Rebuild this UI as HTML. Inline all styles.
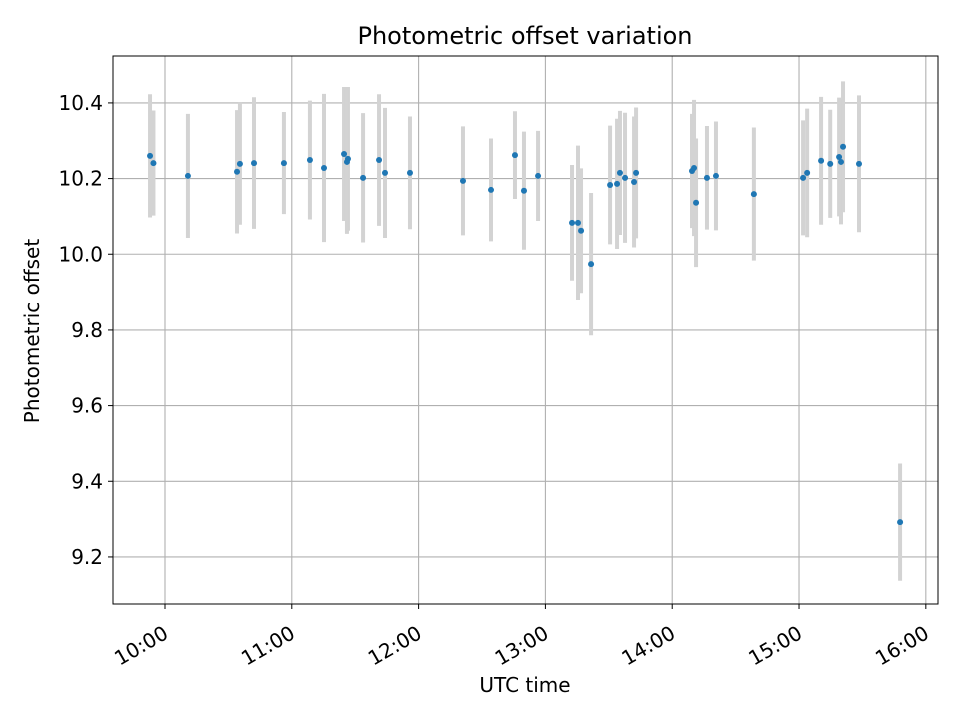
<!DOCTYPE html>
<html><head><meta charset="utf-8"><style>
body{margin:0;background:#fff}
svg{display:block;font-family:"DejaVu Sans","Liberation Sans",sans-serif}
</style></head><body>
<svg id="chart" width="960" height="720" viewBox="0 0 960 720">
<rect width="960" height="720" fill="#fff"/>
<text x="525" y="44" text-anchor="middle" font-size="24">Photometric offset variation</text>
<text x="525" y="692" text-anchor="middle" font-size="20">UTC time</text>
<text transform="translate(39,331) rotate(-90)" text-anchor="middle" font-size="20">Photometric offset</text>
<g id="grid"></g><g id="bars"></g><g id="dots"></g><g id="axes"></g>
</svg>
<script>
const times=[9.882,9.909,10.181,10.568,10.591,10.702,10.938,11.143,11.254,11.412,11.443,11.435,11.562,11.688,11.735,11.932,12.350,12.571,12.760,12.831,12.942,13.210,13.257,13.281,13.360,13.510,13.565,13.588,13.628,13.699,13.715,14.156,14.172,14.188,14.274,14.345,14.644,15.032,15.064,15.174,15.246,15.316,15.331,15.347,15.473,15.797];
const offsets=[10.260,10.241,10.207,10.218,10.239,10.241,10.241,10.249,10.228,10.265,10.252,10.244,10.202,10.249,10.215,10.215,10.194,10.170,10.262,10.168,10.207,10.083,10.083,10.062,9.974,10.183,10.186,10.215,10.202,10.191,10.215,10.220,10.228,10.136,10.202,10.207,10.159,10.202,10.215,10.247,10.239,10.257,10.244,10.284,10.239,9.292];
const errors=[0.163,0.139,0.164,0.163,0.161,0.174,0.135,0.157,0.196,0.177,0.19,0.19,0.171,0.174,0.172,0.149,0.144,0.136,0.116,0.156,0.119,0.153,0.204,0.165,0.188,0.157,0.172,0.164,0.172,0.173,0.173,0.151,0.18,0.17,0.137,0.144,0.176,0.152,0.17,0.169,0.143,0.157,0.165,0.173,0.181,0.155];
const xTickHours=[10,11,12,13,14,15,16];
const xTickLabels=["10:00","11:00","12:00","13:00","14:00","15:00","16:00"];
const yTicks=[9.2,9.4,9.6,9.8,10.0,10.2,10.4];
const yTickLabels=["9.2","9.4","9.6","9.8","10.0","10.2","10.4"];
const L=113,R=938,T=56,B=604;
const X0=9.590,X1=16.096,Y0=9.0756,Y1=10.524;
const sx=h=>L+(h-X0)/(X1-X0)*(R-L);
const sy=v=>B-(v-Y0)/(Y1-Y0)*(B-T);
const NS="http://www.w3.org/2000/svg";
function mk(tag,attrs,parent){const e=document.createElementNS(NS,tag);for(const k in attrs)e.setAttribute(k,attrs[k]);parent.appendChild(e);return e;}
const grid=document.getElementById('grid'),bars=document.getElementById('bars'),dots=document.getElementById('dots'),axes=document.getElementById('axes');
xTickHours.forEach((h,i)=>{const x=sx(h);
 const g=mk('line',{x1:x,x2:x,y1:T,y2:B,stroke:'#b0b0b0','stroke-width':1.1},grid);
 
 
 const t=mk('line',{x1:x,x2:x,y1:B,y2:B+5,stroke:'#000','stroke-width':1},axes);
 
 
 const ax=x-3, ay=624;
 const tx=mk('text',{x:ax,y:ay,'text-anchor':'end','dominant-baseline':'hanging','font-size':20,transform:`rotate(-30 ${ax} ${ay})`},axes);
 tx.textContent=xTickLabels[i];
 
 
});
yTicks.forEach((v,i)=>{const y=sy(v);
 const g=mk('line',{x1:L,x2:R,y1:y,y2:y,stroke:'#b0b0b0','stroke-width':1.1},grid);
 
 
 const t=mk('line',{x1:L-5,x2:L,y1:y,y2:y,stroke:'#000','stroke-width':1},axes);
 
 
 const tx=mk('text',{x:L-10,y:y+7,'text-anchor':'end','font-size':20},axes);
 tx.textContent=yTickLabels[i];
 
 
});
times.forEach((h,i)=>{const x=sx(h);
 const b=mk('line',{x1:x,x2:x,y1:sy(offsets[i]-errors[i]),y2:sy(offsets[i]+errors[i]),stroke:'#d3d3d3','stroke-width':4},bars);
 
 
 const c=mk('circle',{cx:x,cy:sy(offsets[i]),r:3,fill:'#1f77b4'},dots);
 
 
});
const fr=mk('rect',{x:L,y:T,width:R-L,height:B-T,fill:'none',stroke:'#000','stroke-width':1},axes);


</script>
</body></html>
